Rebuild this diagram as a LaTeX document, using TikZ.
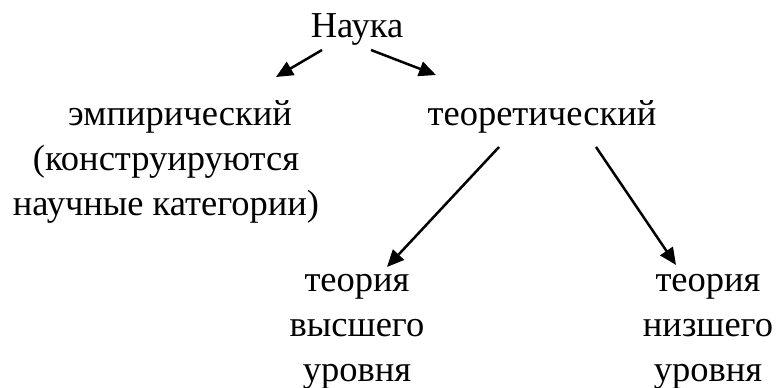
\documentclass[tikz,border=0pt]{standalone}
\usepackage{fontspec}
\setmainfont{Liberation Serif}
\usetikzlibrary{positioning, calc, arrows.meta}

\begin{document}
\begin{tikzpicture}[x=1pt, y=-1pt, lbl/.style = {inner sep=0pt, anchor=base, align=center, font=\fontsize{36.5}{45}\selectfont}, arr/.style = {line width=2.5pt, -{Triangle[length=17pt, width=15pt]}}]
    \useasboundingbox (0,0) rectangle (779,388);
    % Nodes
    \node[lbl] (nauka) at (357,37) {Наука};
    \node[lbl] (emp) at (166,215) {\hspace*{28pt}эмпирический\\(конструируются\hspace*{26pt}\\научные категории)};
    \node[lbl] (teor) at (542,125) {теоретический};
    \node[lbl] (vys) at (357,381) {теория\\высшего\\уровня};
    \node[lbl] (niz) at (708,381) {теория\\низшего\\уровня};

    % Arrows
    \draw[arr] ($(nauka.base)+(-35,13)$) -- ($(emp.base)+(110,-138)$);
    \draw[arr] ($(nauka.base)+(14,13)$) -- ($(teor.base)+(-106,-50)$);
    \draw[arr] ($(teor.base)+(-43,22)$) -- ($(vys.base)+(30,-114)$);
    \draw[arr] ($(teor.base)+(54,22)$) -- ($(niz.base)+(-32,-116)$);
\end{tikzpicture}
\end{document}
